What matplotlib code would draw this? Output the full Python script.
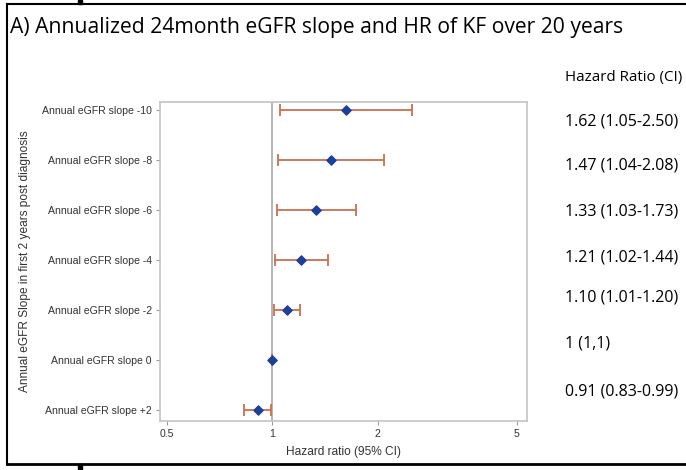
import matplotlib
matplotlib.use("Agg")
import matplotlib.pyplot as plt
from matplotlib.patches import Rectangle
from matplotlib.lines import Line2D

categories = ["Annual eGFR slope -10", "Annual eGFR slope -8", "Annual eGFR slope -6",
              "Annual eGFR slope -4", "Annual eGFR slope -2", "Annual eGFR slope 0",
              "Annual eGFR slope +2"]
hr = [1.62, 1.47, 1.33, 1.21, 1.10, 1.00, 0.91]
lo = [1.05, 1.04, 1.03, 1.02, 1.01, 1.00, 0.83]
hi = [2.50, 2.08, 1.73, 1.44, 1.20, 1.00, 0.99]
hr_labels = ["1.62 (1.05-2.50)", "1.47 (1.04-2.08)", "1.33 (1.03-1.73)",
             "1.21 (1.02-1.44)", "1.10 (1.01-1.20)", "1 (1,1)", "0.91 (0.83-0.99)"]
label_y_px = [122, 165, 212, 258, 298, 343, 392]
xticks = [0.5, 1, 2, 5]
xtick_labels = ["0.5", "1", "2", "5"]

W, H = 686, 470
fig = plt.figure(figsize=(W / 100, H / 100), dpi=100)
fig.patch.set_facecolor("white")
plt.rcParams["font.family"] = ["Liberation Sans", "DejaVu Sans"]

def fx(px):
    return px / W

def fy(py):
    return 1 - py / H

ax = fig.add_axes([fx(160), fy(421), fx(527) - fx(160), fy(102) - fy(421)])
ypos = list(range(len(categories)))
err_lo = [h - l for h, l in zip(hr, lo)]
err_hi = [u - h for h, u in zip(hr, hi)]
ax.errorbar(hr, ypos, xerr=[err_lo, err_hi], fmt="none", ecolor="#c9704f",
            elinewidth=1.3, capsize=4, capthick=1.3, zorder=2)
ax.scatter(hr, ypos, marker="D", s=22, color="#1c3f9a", zorder=3)
ax.axvline(1, color="#a8a8a8", lw=1.2, zorder=1)
ax.set_xscale("log")
ax.set_xlim(0.477, 5.34)
ax.set_ylim(6.22, -0.17)
ax.set_xticks(xticks)
ax.set_xticklabels(xtick_labels, family=["Liberation Sans"])
ax.minorticks_off()
ax.set_yticks(ypos)
ax.set_yticklabels(categories, family=["Liberation Sans"])
for s in ax.spines.values():
    s.set_color("#c4c4c4")
    s.set_linewidth(1.2)
ax.tick_params(axis="both", colors="#9a9a9a", length=3, width=0.8, labelsize=7.6,
               labelcolor="#333333", pad=3)
ax.set_xlabel("Hazard ratio (95% CI)", fontsize=8.6, color="#333333", labelpad=5,
              family=["Liberation Sans"])
ax.set_ylabel("Annual eGFR Slope in first 2 years post diagnosis", fontsize=8.6,
              color="#333333", labelpad=8, family=["Liberation Sans"])

fig.text(fx(10), fy(28), "A) Annualized 24month eGFR slope and HR of KF over 20 years",
         fontsize=15.2, family="Open Sans", va="center", ha="left", color="black")
fig.text(fx(565), fy(78), "Hazard Ratio (CI)", fontsize=10.9, family="Open Sans",
         va="center", ha="left")
for t, py in zip(hr_labels, label_y_px):
    fig.text(fx(565), fy(py), t, fontsize=11.5, family="Open Sans", va="center", ha="left")

# outer black frame (left, top, bottom)
fig.add_artist(Line2D([fx(7), fx(7)], [fy(4), fy(464)], color="black", lw=1.5,
                      transform=fig.transFigure))
fig.add_artist(Line2D([fx(7), fx(686)], [fy(4), fy(4)], color="black", lw=1.5,
                      transform=fig.transFigure))
fig.add_artist(Line2D([fx(7), fx(686)], [fy(464), fy(464)], color="black", lw=2,
                      transform=fig.transFigure))
fig.add_artist(Rectangle((fx(78), fy(4)), fx(4), fy(0) - fy(4), color="black",
                         transform=fig.transFigure))
fig.add_artist(Rectangle((fx(78), fy(470)), fx(4), fy(464) - fy(470), color="black",
                         transform=fig.transFigure))

fig.savefig("out.png", dpi=100)
